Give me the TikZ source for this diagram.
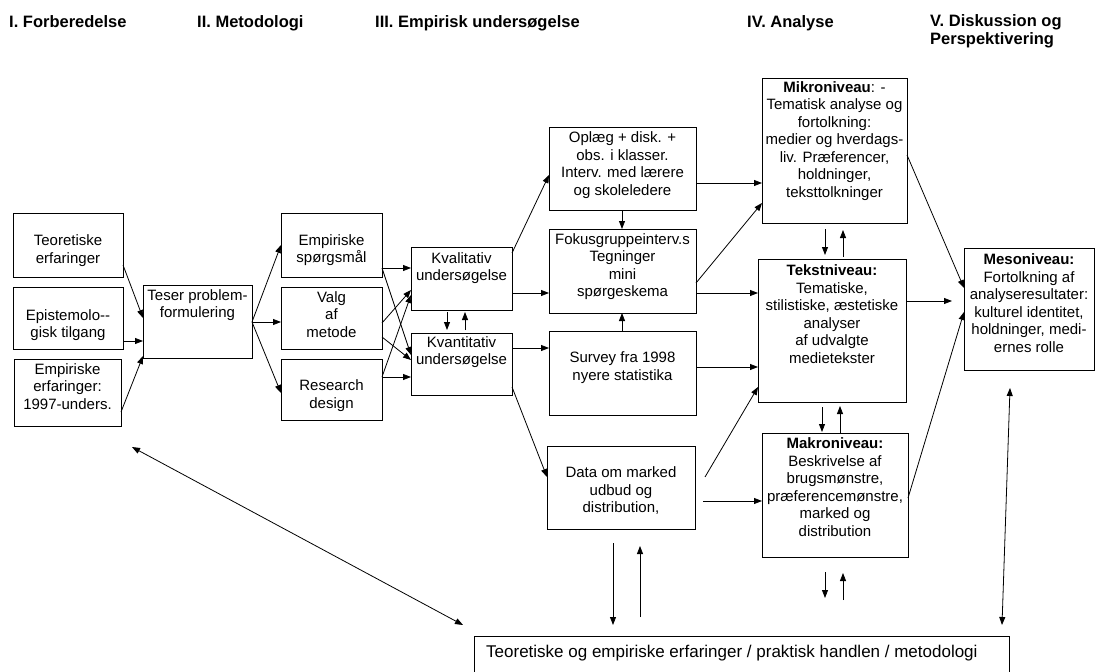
\documentclass[tikz,border=0pt]{standalone}
\usepackage{fontspec}
\setmainfont{Liberation Sans}
\usetikzlibrary{arrows.meta,calc}

% a framed box given by its corners (x1,y1) and (x2,y2)
\newcommand\panel[5]{%
  \node[box, minimum width={(#4-#2)*1bp}, minimum height={(#5-#3)*1bp}]
    (#1) at ({(#2+#4)/2},{(#3+#5)/2}) {};}

\begin{document}
\begin{tikzpicture}[x=1bp,y=-1bp,
  box/.style={draw, line width=0.9bp, inner sep=0pt, outer sep=0pt},
  txt/.style={align=center, inner sep=0pt, font=\fontsize{15bp}{17.5bp}\selectfont},
  head/.style={inner sep=0pt, align=left, font=\fontsize{16.5bp}{18bp}\selectfont\bfseries},
  link/.style={line width=0.8bp, -{Triangle[length=8bp,width=6bp]}},
  dlink/.style={line width=0.8bp, {Triangle[length=8bp,width=6bp]}-{Triangle[length=8bp,width=6bp]}},
]
\useasboundingbox (0,0) rectangle (1096,672);
\clip (0,0) rectangle (1096,672);

% phase headings
\node[head, anchor=base west] (h1) at (9,28) {I. Forberedelse};
\node[head, anchor=base west] (h2) at (197,28) {II. Metodologi};
\node[head, anchor=base west] (h3) at (375,28) {III. Empirisk undersøgelse};
\node[head, anchor=base west] (h4) at (747,28) {IV. Analyse};
\node[head, anchor=north west] (h5) at (930,14) {V. Diskussion og\\Perspektivering};

% boxes
\panel{teo}{13}{213}{123}{277}
\panel{epi}{13}{287}{123}{349}
\panel{emperf}{14}{359}{121}{426}
\panel{teser}{143}{285}{252}{358}
\panel{es}{281}{213}{382}{277}
\panel{valg}{281}{287}{382}{349}
\panel{rd}{281}{359}{382}{420}
\panel{kvali}{411}{247}{512}{310}
\panel{kvanti}{411}{333}{512}{395}
\panel{oplaeg}{549}{127}{696}{210}
\panel{fokus}{549}{229}{696}{313}
\panel{survey}{549}{331}{696}{415}
\panel{data}{547}{446}{695}{529}
\panel{mikro}{762}{78}{907}{223}
\panel{tekst}{758}{259}{906}{402}
\panel{makro}{762}{433}{908}{557}
\panel{meso}{964}{248}{1094}{370}
\panel{bund}{474}{636}{1009}{690}

% box texts
\node[txt] (teo-t) at (68,250.5) {Teoretiske\\erfaringer};
\node[txt] (epi-t) at (68,325) {Epistemolo-{}-\\gisk tilgang};
\node[txt] (emperf-t) at (67.5,386.5) {Empiriske\\erfaringer:\\1997-unders.};
\node[txt] (teser-t) at (197.5,305) {Teser problem-\\formulering};
\node[txt] (es-t) at (331.5,250) {Empiriske\\spørgsmål};
\node[txt] (valg-t) at (331.5,314.5) {Valg\\af\\metode};
\node[txt] (rd-t) at (331.5,395.5) {Research\\design};
\node[txt] (kvali-t) at (461.5,268) {Kvalitativ\\undersøgelse};
\node[txt] (kvanti-t) at (461.5,352) {Kvantitativ\\undersøgelse};
\node[txt] (oplaeg-t) at (622.5,165) {Oplæg + disk. +\\obs. i klasser.\\Interv. med lærere\\og skoleledere};
\node[txt] (fokus-t) at (622.5,266.5) {Fokusgruppeinterv.s\\Tegninger\\mini\\spørgeskema};
\node[txt] (survey-t) at (622.5,367.5) {Survey fra 1998\\nyere statistika};
\node[txt] (data-t) at (621,491) {Data om marked\\udbud og\\distribution,};
\node[txt] (mikro-t) at (834.5,141) {\textbf{Mikroniveau}: -\\Tematisk analyse og\\fortolkning:\\medier og hverdags-\\liv. Præferencer,\\holdninger,\\teksttolkninger};
\node[txt] (tekst-t) at (832,314) {\textbf{Tekstniveau:}\\Tematiske,\\stilistiske, æstetiske\\analyser\\af udvalgte\\medietekster};
\node[txt] (makro-t) at (835,487) {\textbf{Makroniveau:}\\Beskrivelse af\\brugsmønstre,\\præferencemønstre,\\marked og\\distribution};
\node[txt] (meso-t) at (1029,303) {\textbf{Mesoniveau:}\\Fortolkning af\\analyseresultater:\\kulturel identitet,\\holdninger, medi-\\ernes rolle};
\node[txt, anchor=base west, font=\fontsize{17bp}{20bp}\selectfont] (bund-t) at (486,657)
  {Teoretiske og empiriske erfaringer / praktisk handlen / metodologi};

% I -> II
\draw[link] (teo.east |- 0,265) -- (teser.west |- 0,318);
\draw[link] (epi.east |- 0,341) -- (teser.west |- 0,341);
\draw[link] (emperf.east |- 0,412) -- (teser.west |- 0,356);
\draw[link] (teser.east |- 0,322) -- (es.west |- 0,245);
\draw[link] (teser.east |- 0,322) -- (valg.west |- 0,322);
\draw[link] (teser.east |- 0,322) -- (rd.west |- 0,393);

% II -> III
\draw[link] (es.east |- 0,268) -- (kvali.west |- 0,268);
\draw[link] (es.east |- 0,268) -- (kvanti.west |- 0,355);
\draw[link] (valg.east |- 0,323) -- (kvali.west |- 0,290);
\draw[link] (valg.east |- 0,337) -- (kvanti.west |- 0,360);
\draw[link] (rd.east |- 0,377) -- (kvali.west |- 0,295);
\draw[link] (rd.east |- 0,377) -- (kvanti.west |- 0,377);

% between the two studies
\draw[link, shorten <=2bp, shorten >=3bp] (kvali.south -| 447,0) -- (kvanti.north -| 447,0);
\draw[link, shorten <=3bp, shorten >=2bp] (kvanti.north -| 465,0) -- (kvali.south -| 465,0);

% III
\draw[link] (kvali.east |- 0,253) -- (oplaeg.west |- 0,175);
\draw[link] (kvali.east |- 0,293) -- (fokus.west |- 0,293);
\draw[link] (kvanti.east |- 0,348) -- (survey.west |- 0,348);
\draw[link] (kvanti.east |- 0,387) -- (data.west |- 0,477);
\draw[link] (oplaeg.south -| 622,0) -- (fokus.north -| 622,0);
\draw[link] (survey.north -| 622,0) -- (fokus.south -| 622,0);

% III -> IV
\draw[link] (oplaeg.east |- 0,183) -- (mikro.west |- 0,183);
\draw[link] (fokus.east |- 0,283) -- (mikro.west |- 0,203);
\draw[link] (fokus.east |- 0,293) -- (tekst.west |- 0,293);
\draw[link] (survey.east |- 0,367) -- (tekst.west |- 0,367);
\draw[link] (data.east |- 0,477) ++(10,0) -- (tekst.west |- 0,387);
\draw[link] (data.east |- 0,501) ++(8,0) -- (makro.west |- 0,501);

% IV levels
\draw[link, shorten <=6bp, shorten >=4bp] (mikro.south -| 825,0) -- (tekst.north -| 825,0);
\draw[link, shorten <=2bp, shorten >=7bp] (tekst.north -| 843,0) -- (mikro.south -| 843,0);
\draw[link, shorten <=5bp, shorten >=1bp] (tekst.south -| 822,0) -- (makro.north -| 822,0);
\draw[link, shorten >=4bp] (makro.north -| 840,0) -- (tekst.south -| 840,0);

% IV -> V
\draw[link] (mikro.east |- 0,155) -- (meso.west |- 0,288);
\draw[link, shorten >=12bp] (tekst.east |- 0,301) -- (meso.west |- 0,301);
\draw[link] (makro.east |- 0,498) -- (meso.west |- 0,312);

% feedback to the bottom frame
\draw[link, shorten <=15bp, shorten >=38bp] (makro.south -| 825,0) -- (bund.north -| 825,0);
\draw[link, shorten <=36bp, shorten >=16bp] (bund.north -| 843,0) -- (makro.south -| 843,0);
\draw[link, shorten <=14bp, shorten >=11bp] (data.south -| 613,0) -- (bund.north -| 613,0);
\draw[link, shorten <=19bp, shorten >=17bp] (bund.north -| 640,0) -- (data.south -| 640,0);
\draw[dlink] ($(emperf.south east)+(11,21)$) -- ($(bund.north west)+(-11,-11)$);
\draw[dlink] ($(meso.south west)+(46,18)$) -- ($(bund.north east)+(-7,-11)$);
\end{tikzpicture}
\end{document}
